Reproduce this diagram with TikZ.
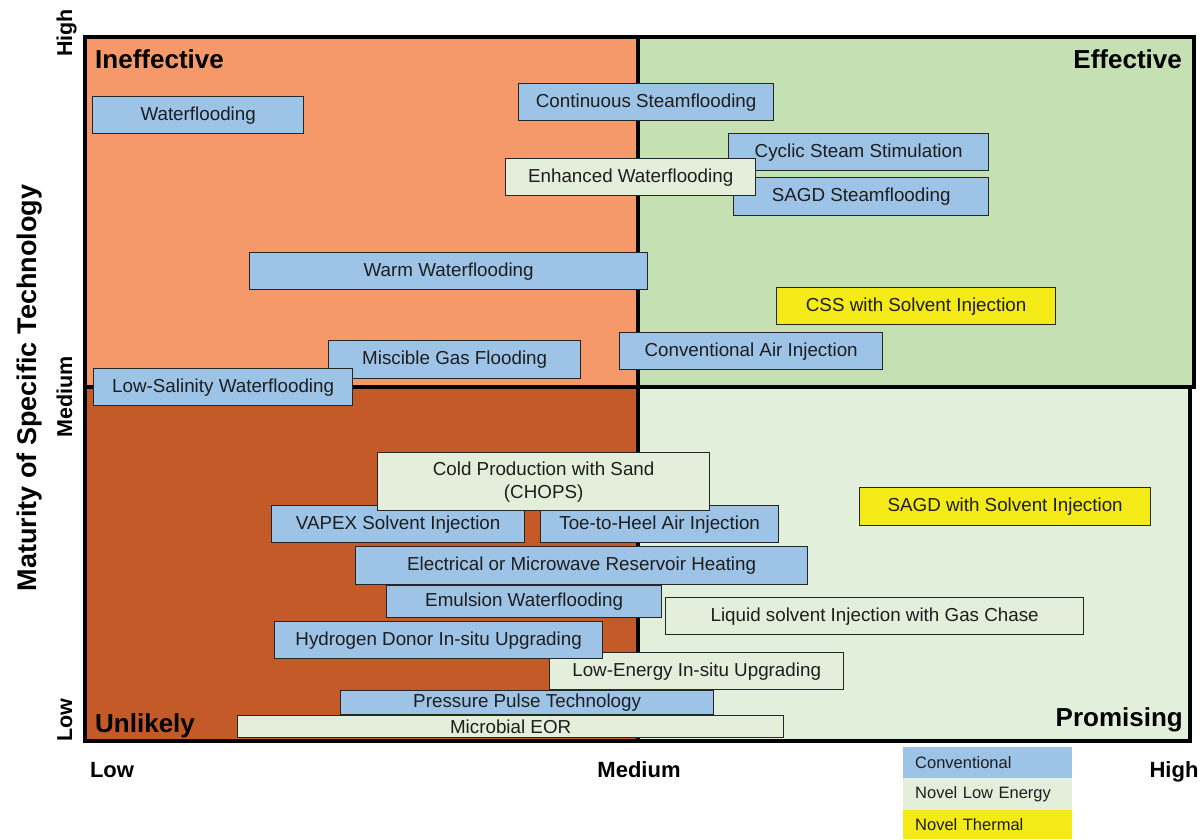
\documentclass[tikz,border=0pt]{standalone}
\usepackage{fontspec}
\setmainfont{Liberation Sans}
\definecolor{qTL}{HTML}{F5996A}
\definecolor{qBL}{HTML}{C45A28}
\definecolor{qTR}{HTML}{C5E0B3}
\definecolor{qBR}{HTML}{E2EFDA}
\definecolor{convblue}{HTML}{9DC3E6}
\definecolor{novelgreen}{HTML}{E4EFDB}
\definecolor{thermyellow}{HTML}{F3EA18}
\definecolor{txt}{HTML}{1E1E1E}
\definecolor{boxline}{HTML}{262626}
\tikzset{
  frame/.style={draw=black, line width=3.5pt, line join=miter},
  tech/.style={draw=boxline, line width=1.3pt, inner sep=0pt, anchor=north west, text=txt,
    font=\fontsize{18.8}{23}\selectfont, align=center},
  conv/.style={tech, fill=convblue},
  novel/.style={tech, fill=novelgreen},
  therm/.style={tech, fill=thermyellow},
  quadlabel/.style={inner sep=0pt, text=black, font=\bfseries\fontsize{26}{30}\selectfont},
  axtick/.style={inner sep=0pt, text=black, font=\bfseries\fontsize{22}{26}\selectfont, anchor=base},
  ytick/.style={inner sep=0pt, text=black, font=\bfseries\fontsize{21.5}{26}\selectfont, anchor=base, rotate=90},
  legendbox/.style={anchor=north west, minimum width=169pt, inner xsep=12pt, inner ysep=0pt,
    text width=145pt, align=left, text=txt, font=\fontsize{16.5}{20}\selectfont}
}
\begin{document}
\begin{tikzpicture}[x=1pt,y=-1pt]
\useasboundingbox (0,0) rectangle (1204,839);
% quadrants
\fill[qTL] (85,37) rectangle (638,387);
\fill[qTR] (638,37) rectangle (1194,387);
\fill[qBL] (85,387) rectangle (638,741);
\fill[qBR] (638,387) rectangle (1190,741);
\draw[frame] (85,37) rectangle (638,387);
\draw[frame] (638,37) rectangle (1194,387);
\draw[frame] (85,387) rectangle (638,741);
\draw[frame] (638,387) rectangle (1190,741);
% quadrant labels
\node[quadlabel, anchor=base west] (ineff) at (95,68) {Ineffective};
\node[quadlabel, anchor=base east] (eff) at (1182,68) {Effective};
\node[quadlabel, anchor=base west] (unl) at (95,732) {Unlikely};
\node[quadlabel, anchor=base east] (prom) at (1183,726) {Promising};
% technology boxes, upper half
\node[conv, minimum width=211pt, minimum height=37pt] (wf) at (92,96) {Waterflooding};
\node[conv, minimum width=255pt, minimum height=37pt] (cs) at (518,83) {Continuous Steamflooding};
\node[conv, minimum width=260pt, minimum height=37pt] (css) at (728,133) {Cyclic Steam Stimulation};
\node[conv, minimum width=255pt, minimum height=38pt] (sagd) at (733,177) {SAGD Steamflooding};
\node[novel, minimum width=250pt, minimum height=37pt] (ew) at (505,158) {Enhanced Waterflooding};
\node[conv, minimum width=398pt, minimum height=37pt] (ww) at (249,252) {Warm Waterflooding};
\node[therm, minimum width=279pt, minimum height=37pt] (cssi) at (776,287) {CSS with Solvent Injection};
\node[conv, minimum width=263pt, minimum height=37pt] (cai) at (619,332) {Conventional Air Injection};
\node[conv, minimum width=252pt, minimum height=38pt] (mgf) at (328,340) {Miscible Gas Flooding};
\node[conv, minimum width=259pt, minimum height=37pt] (lsw) at (93,368) {Low-Salinity Waterflooding};
% lower half
\node[conv, minimum width=253pt, minimum height=37pt] (vapex) at (271,505) {VAPEX Solvent Injection};
\node[conv, minimum width=238pt, minimum height=37pt] (thai) at (540,505) {Toe-to-Heel Air Injection};
\node[novel, minimum width=332pt, minimum height=58pt] (chops) at (377,452) {Cold Production with Sand\\(CHOPS)};
\node[conv, minimum width=452pt, minimum height=38pt] (emrh) at (355,546) {Electrical or Microwave Reservoir Heating};
\node[conv, minimum width=275pt, minimum height=32pt] (emw) at (386,585) {Emulsion Waterflooding};
\node[novel, minimum width=418pt, minimum height=37pt] (lsig) at (665,597) {Liquid solvent Injection with Gas Chase};
\node[therm, minimum width=291pt, minimum height=38pt] (sagdsi) at (859,487) {SAGD with Solvent Injection};
\node[novel, minimum width=294pt, minimum height=37pt] (leu) at (549,652) {Low-Energy In-situ Upgrading};
\node[conv, minimum width=328pt, minimum height=37pt] (hdu) at (274,621) {Hydrogen Donor In-situ Upgrading};
\node[conv, minimum width=373pt, minimum height=24pt] (ppt) at (340,690) {Pressure Pulse Technology};
\node[novel, minimum width=546pt, minimum height=22pt] (meor) at (237,715) {Microbial EOR};
% axes
\node[axtick] (xlow) at (112,777) {Low};
\node[axtick] (xmed) at (639,777) {Medium};
\node[axtick] (xhigh) at (1174,777) {High};
\node[ytick] (yhigh) at (72,33) {High};
\node[ytick] (ymed) at (72,397) {Medium};
\node[ytick] (ylow) at (72,720) {Low};
\node[inner sep=0pt, anchor=base, rotate=90, text=black, font=\bfseries\fontsize{27}{32}\selectfont] (ytitle) at (36,388) {Maturity of Specific Technology};
% legend
\node[legendbox, fill=convblue, minimum height=31pt] (lg1) at (903,747) {Conventional};
\node[legendbox, fill=novelgreen, minimum height=32pt] (lg2) at (903,778) {Novel Low Energy};
\node[legendbox, fill=thermyellow, minimum height=29pt] (lg3) at (903,810) {Novel Thermal};
\end{tikzpicture}
\end{document}
